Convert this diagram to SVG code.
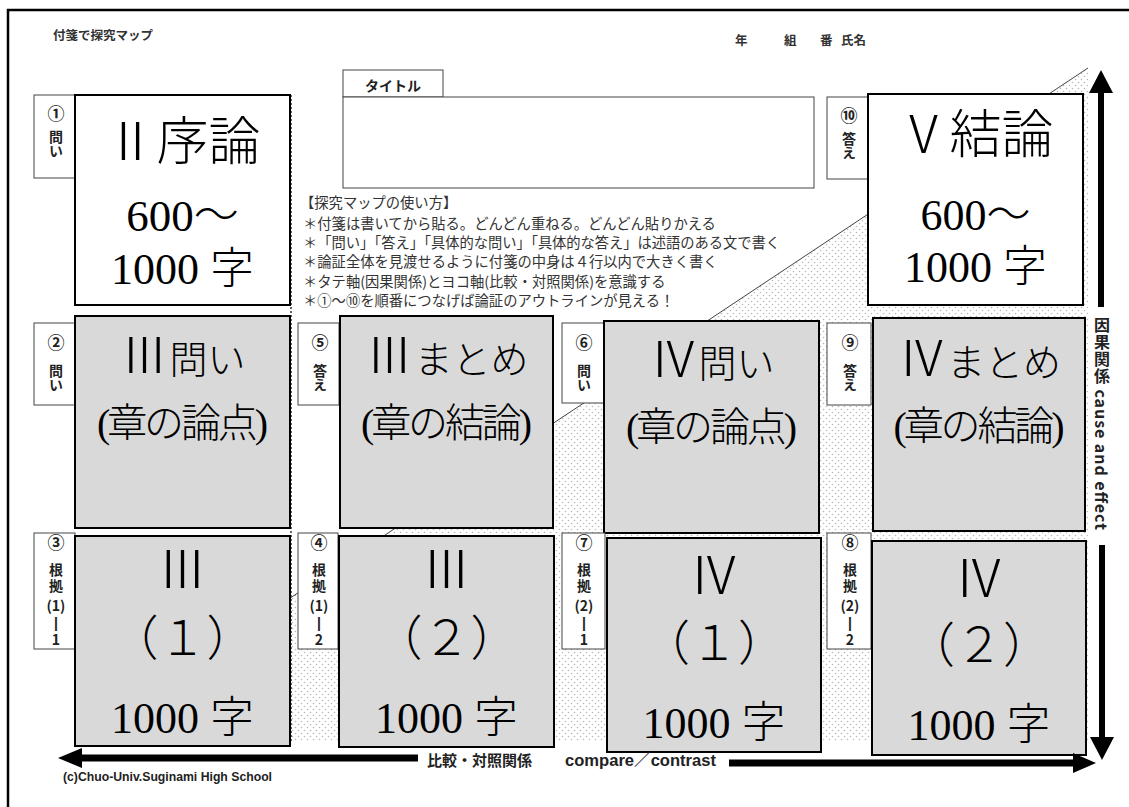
<svg xmlns="http://www.w3.org/2000/svg" width="1129" height="807" viewBox="0 0 1129 807">
<defs>
<pattern id="dots" width="6" height="6" patternUnits="userSpaceOnUse">
<circle cx="1.5" cy="1.5" r="0.8" fill="#b8b8b8"/>
<circle cx="4.5" cy="4.5" r="0.8" fill="#b8b8b8"/>
</pattern>
</defs>
<style>
.lab{fill:#fff;stroke:#444;stroke-width:1}
.node{stroke:#000;stroke-width:2}
.w{fill:#fff}
.g{fill:#d9d9d9}
.lt{font-family:"Noto Sans CJK JP",sans-serif;font-weight:bold;fill:#222;text-anchor:middle;font-size:14px}
.vt{font-family:"Noto Sans CJK JP",sans-serif;font-weight:bold;fill:#222;text-anchor:start;font-size:14px;writing-mode:vertical-rl}
.num{font-size:17px}
.bar{font-family:"Liberation Sans",sans-serif;font-size:14px}
.big{font-family:"Liberation Serif","Noto Sans CJK JP",serif;font-weight:300;fill:#000;text-anchor:middle}
.ins{font-family:"Noto Sans CJK JP",sans-serif;font-size:14.3px;fill:#333}
.hd{font-family:"Noto Sans CJK JP",sans-serif;font-weight:bold;font-size:12.5px;fill:#333}
.axis{font-family:"Noto Sans CJK JP",sans-serif;font-weight:bold;fill:#222}
.lat{font-family:"Liberation Sans Narrow","Liberation Sans","Noto Sans CJK JP",sans-serif;font-weight:bold;fill:#222}
</style>

<rect x="0" y="0" width="1129" height="807" fill="#fff"/>
<polyline points="8,807 8,10 1129,10" fill="none" stroke="#000" stroke-width="2.5"/>
<polygon points="75,741 1088,741 1088,68" fill="url(#dots)"/>
<line x1="75" y1="741" x2="1088" y2="68" stroke="#444" stroke-width="1"/>
<line x1="291" y1="95" x2="291" y2="741" stroke="#666" stroke-width="2" stroke-dasharray="2,2"/>

<text class="hd" x="53" y="40">付箋で探究マップ</text>
<text class="hd" y="45" font-size="12"><tspan x="735">年</tspan><tspan x="784">組</tspan><tspan x="820">番</tspan><tspan x="841">氏名</tspan></text>

<g id="title">
<rect x="343" y="70" width="100" height="27" fill="#fff" stroke="#444" stroke-width="1"/>
<text class="lt" x="393" y="91" font-size="13">タイトル</text>
<rect x="343" y="97" width="471" height="91" fill="#fff" stroke="#444" stroke-width="1"/>
</g>

<g id="instructions">
<text class="ins" x="300" y="208">【探究マップの使い方】</text>
<text class="ins" x="303" y="229">＊付箋は書いてから貼る。どんどん重ねる。どんどん貼りかえる</text>
<text class="ins" x="303" y="248" textLength="477">＊「問い」「答え」「具体的な問い」「具体的な答え」は述語のある文で書く</text>
<text class="ins" x="303" y="267">＊論証全体を見渡せるように付箋の中身は４行以内で大きく書く</text>
<text class="ins" x="303" y="287">＊タテ軸(因果関係)とヨコ軸(比較・対照関係)を意識する</text>
<text class="ins" x="303" y="306">＊①～⑩を順番につなげば論証のアウトラインが見える！</text>
</g>

<g id="n1">
<rect class="lab" x="34" y="95" width="41" height="83"/>
<text class="lt num" x="56" y="120">①</text>
<text class="vt" x="56" y="130">問い</text>
<rect class="node w" x="75" y="95" width="215" height="210"/>
<text class="big" x="182.5" y="160" font-size="52">Ⅱ序論</text>
<text class="big" x="182.5" y="231" font-size="45">600～</text>
<text class="big" x="182.5" y="284" font-size="44">1000 字</text>
</g>

<g id="n10">
<rect class="lab" x="827" y="97" width="41" height="82"/>
<text class="lt num" x="849" y="122">⑩</text>
<text class="vt" x="849" y="132">答え</text>
<rect class="node w" x="868" y="94" width="215" height="211"/>
<text class="big" x="975.5" y="153" font-size="52">Ⅴ結論</text>
<text class="big" x="975.5" y="230" font-size="44">600～</text>
<text class="big" x="975.5" y="282" font-size="44">1000 字</text>
</g>

<g id="n2">
<rect class="lab" x="34" y="323" width="41" height="82"/>
<text class="lt num" x="56" y="349">②</text>
<text class="vt" x="56" y="364">問い</text>
<rect class="node g" x="75" y="316" width="215" height="212"/>
<text class="big" x="182.5" y="373"><tspan font-size="50">Ⅲ</tspan><tspan font-size="38">問い</tspan></text>
<text class="big" x="182.5" y="437" font-size="40" textLength="171">(章の論点)</text>
</g>
<g id="n5">
<rect class="lab" x="298" y="323" width="41" height="82"/>
<text class="lt num" x="320" y="349">⑤</text>
<text class="vt" x="320" y="364">答え</text>
<rect class="node g" x="340" y="316" width="213" height="212"/>
<text class="big" x="446.5" y="373"><tspan font-size="50">Ⅲ</tspan><tspan font-size="38">まとめ</tspan></text>
<text class="big" x="446.5" y="437" font-size="40" textLength="171">(章の結論)</text>
</g>
<g id="n6">
<rect class="lab" x="562" y="323" width="42" height="80"/>
<text class="lt num" x="584" y="349">⑥</text>
<text class="vt" x="584" y="364">問い</text>
<rect class="node g" x="604" y="321" width="215" height="212"/>
<text class="big" x="711.5" y="377"><tspan font-size="50">Ⅳ</tspan><tspan font-size="38">問い</tspan></text>
<text class="big" x="711.5" y="441" font-size="40" textLength="171">(章の論点)</text>
</g>
<g id="n9">
<rect class="lab" x="827" y="323" width="44" height="82"/>
<text class="lt num" x="850" y="349">⑨</text>
<text class="vt" x="850" y="364">答え</text>
<rect class="node g" x="873" y="318" width="212" height="213"/>
<text class="big" x="979" y="376"><tspan font-size="50">Ⅳ</tspan><tspan font-size="38">まとめ</tspan></text>
<text class="big" x="979" y="440" font-size="40" textLength="171">(章の結論)</text>
</g>

<g id="n3">
<rect class="lab" x="34" y="533" width="41" height="116"/>
<text class="lt num" x="56" y="549">③</text>
<text class="vt" x="56" y="563" letter-spacing="2">根拠</text>
<text class="lt" font-size="13"><tspan x="56" y="611">(1)</tspan><tspan class="bar" x="56" y="628">|</tspan><tspan x="56" y="645">1</tspan></text>
<rect class="node g" x="75" y="536" width="215" height="210"/>
<text class="big" x="182.5" y="588" font-size="52">Ⅲ</text>
<text class="big" x="182.5" y="655" font-size="48">（１）</text>
<text class="big" x="182.5" y="733" font-size="44">1000 字</text>
</g>
<g id="n4">
<rect class="lab" x="298" y="533" width="40" height="116"/>
<text class="lt num" x="319" y="549">④</text>
<text class="vt" x="319" y="563" letter-spacing="2">根拠</text>
<text class="lt" font-size="13"><tspan x="319" y="611">(1)</tspan><tspan class="bar" x="319" y="628">|</tspan><tspan x="319" y="645">2</tspan></text>
<rect class="node g" x="339" y="536" width="215" height="211"/>
<text class="big" x="446.5" y="588" font-size="52">Ⅲ</text>
<text class="big" x="446.5" y="655" font-size="48">（２）</text>
<text class="big" x="446.5" y="733" font-size="44">1000 字</text>
</g>
<g id="n7">
<rect class="lab" x="562" y="533" width="43" height="116"/>
<text class="lt num" x="584" y="549">⑦</text>
<text class="vt" x="584" y="563" letter-spacing="2">根拠</text>
<text class="lt" font-size="13"><tspan x="584" y="611">(2)</tspan><tspan class="bar" x="584" y="628">|</tspan><tspan x="584" y="645">1</tspan></text>
<rect class="node g" x="607" y="538" width="214" height="214"/>
<text class="big" x="714" y="594" font-size="52">Ⅳ</text>
<text class="big" x="714" y="660" font-size="48">（１）</text>
<text class="big" x="714" y="738" font-size="44">1000 字</text>
</g>
<g id="n8">
<rect class="lab" x="827" y="533" width="44" height="116"/>
<text class="lt num" x="850" y="549">⑧</text>
<text class="vt" x="850" y="563" letter-spacing="2">根拠</text>
<text class="lt" font-size="13"><tspan x="850" y="611">(2)</tspan><tspan class="bar" x="850" y="628">|</tspan><tspan x="850" y="645">2</tspan></text>
<rect class="node g" x="872" y="541" width="214" height="214"/>
<text class="big" x="979" y="597" font-size="52">Ⅳ</text>
<text class="big" x="979" y="662" font-size="48">（２）</text>
<text class="big" x="979" y="740" font-size="44">1000 字</text>
</g>

<g id="connectors">
<line x1="1101" y1="88" x2="1101" y2="307" stroke="#000" stroke-width="6"/>
<polygon points="1101,70 1089,93 1113,93" fill="#000"/>
<line x1="1102" y1="545" x2="1102" y2="742" stroke="#000" stroke-width="6"/>
<polygon points="1102,760 1090,737 1114,737" fill="#000"/>
<line x1="78" y1="758" x2="418" y2="758" stroke="#000" stroke-width="7"/>
<polygon points="58,758 82,748 82,768" fill="#000"/>
<line x1="729" y1="763" x2="1076" y2="763" stroke="#000" stroke-width="7"/>
<polygon points="1096,763 1073,753 1073,773" fill="#000"/>
</g>
<text class="axis" x="1102" y="317" font-size="16" textLength="213" style="writing-mode:vertical-rl">因果関係 cause and effect</text>
<text class="axis" x="427" y="766" font-size="15">比較・対照関係</text>
<text class="lat" x="565" y="766" font-size="16.5" textLength="151" lengthAdjust="spacingAndGlyphs">compare／contrast</text>
<text class="lat" x="63" y="781" font-size="12.5" font-weight="normal" textLength="209" lengthAdjust="spacingAndGlyphs">(c)Chuo-Univ.Suginami High School</text>
</svg>
